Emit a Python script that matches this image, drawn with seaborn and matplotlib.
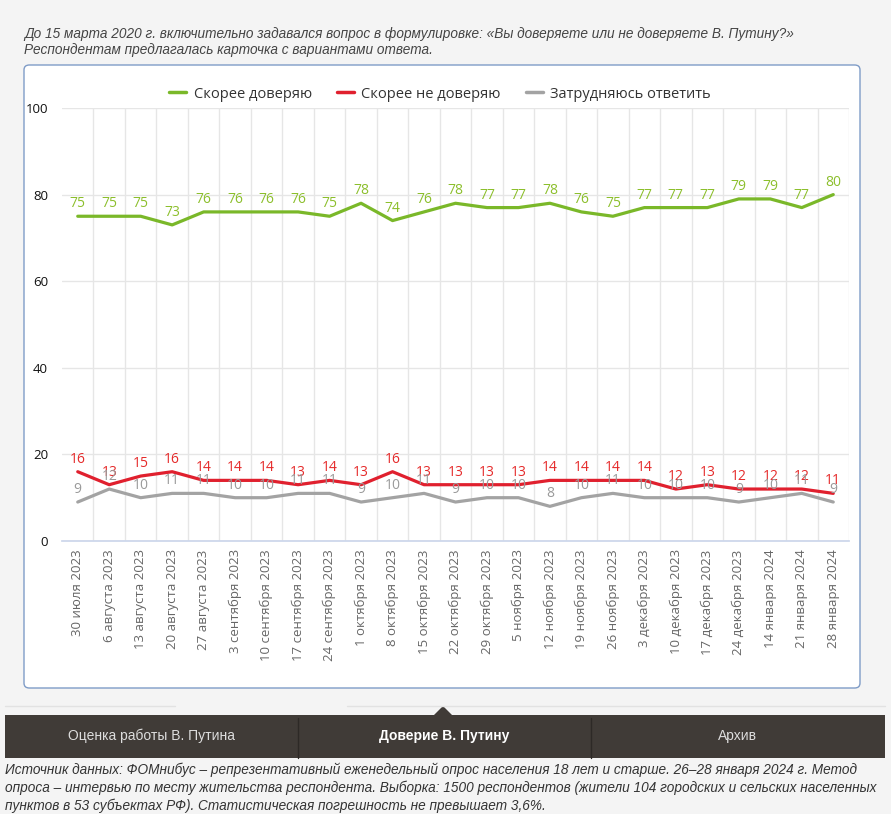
import matplotlib
matplotlib.use("Agg")
import matplotlib.pyplot as plt
import seaborn as sns
import pandas as pd
import numpy as np
from matplotlib.patches import FancyBboxPatch, Rectangle, Polygon

dates = ["30 июля 2023", "6 августа 2023", "13 августа 2023", "20 августа 2023",
         "27 августа 2023", "3 сентября 2023", "10 сентября 2023", "17 сентября 2023",
         "24 сентября 2023", "1 октября 2023", "8 октября 2023", "15 октября 2023",
         "22 октября 2023", "29 октября 2023", "5 ноября 2023", "12 ноября 2023",
         "19 ноября 2023", "26 ноября 2023", "3 декабря 2023", "10 декабря 2023",
         "17 декабря 2023", "24 декабря 2023", "14 января 2024", "21 января 2024",
         "28 января 2024"]
trust = [75, 75, 75, 73, 76, 76, 76, 76, 75, 78, 74, 76, 78, 77, 77, 78, 76, 75,
         77, 77, 77, 79, 79, 77, 80]
distrust = [16, 13, 15, 16, 14, 14, 14, 13, 14, 13, 16, 13, 13, 13, 13, 14, 14, 14,
            14, 12, 13, 12, 12, 12, 11]
unsure = [9, 12, 10, 11, 11, 10, 10, 11, 11, 9, 10, 11, 9, 10, 10, 8, 10, 11,
          10, 10, 10, 9, 10, 11, 9]
series = ["Скорее доверяю", "Скорее не доверяю", "Затрудняюсь ответить"]
line_colors = ["#7ab829", "#e0202e", "#a3a3a3"]
label_colors = ["#8cbf2c", "#e52a2a", "#9a9a9a"]

df = pd.DataFrame({
    "pos": list(range(len(dates))) * 3,
    "value": trust + distrust + unsure,
    "series": np.repeat(series, len(dates)),
})

sns.set_theme(style="white")
plt.rcParams["font.family"] = ["Open Sans", "DejaVu Sans"]

W, H = 891, 814
fig = plt.figure(figsize=(W / 100, H / 100), dpi=100, facecolor="#f4f4f4")

def fx(px):
    return px / W

def fy(py):
    return 1 - py / H

# chart box
box = FancyBboxPatch((fx(24), fy(688)), fx(860) - fx(24), fy(65) - fy(688),
                     boxstyle="round,pad=0,rounding_size=0.006",
                     transform=fig.transFigure, facecolor="white",
                     edgecolor="#7f9cc7", linewidth=1.0, zorder=-1)
fig.patches.append(box)

ax = fig.add_axes([fx(62), fy(541), fx(849) - fx(62), fy(108) - fy(541)])
ax.set_zorder(2)
ax.set_facecolor("none")

sns.lineplot(data=df, x="pos", y="value", hue="series", hue_order=series,
             palette=line_colors, linewidth=2.3, ax=ax, legend=False, zorder=3)

for vals, col in zip([trust, distrust, unsure], label_colors):
    for i, v in enumerate(vals):
        ax.annotate(str(v), (i, v), xytext=(0, 5), textcoords="offset pixels",
                    ha="center", va="bottom", fontsize=10, color=col, zorder=4)

ax.set_xlim(-0.5, len(dates) - 0.5)
ax.set_ylim(0, 100)
ax.set_yticks(range(0, 101, 20))
ax.set_xticks(range(len(dates)))
ax.set_xticklabels(dates, rotation=90, fontsize=9.5, color="#666666")
ax.set_xticks(np.arange(0.5, len(dates), 1), minor=True)
ax.tick_params(axis="x", which="major", length=0, pad=6)
ax.tick_params(axis="x", which="minor", length=6, color="#ccd6eb", width=1)
ax.tick_params(axis="y", length=0, labelsize=9.5, labelcolor="#111111", pad=10)
ax.grid(axis="y", which="major", color="#e6e6e6", linewidth=1)
ax.grid(axis="x", which="minor", color="#e6e6e6", linewidth=1)
ax.set_xlabel("")
ax.set_ylabel("")
for s in ["top", "right", "left"]:
    ax.spines[s].set_visible(False)
ax.spines["bottom"].set_color("#ccd6eb")
ax.spines["bottom"].set_zorder(2)

handles = [plt.Line2D([], [], color=c, linewidth=2.5) for c in line_colors]
fig.legend(handles, series, loc="center", bbox_to_anchor=(fx(440), fy(94)),
           ncol=3, frameon=False, fontsize=10.5, handlelength=1.2,
           columnspacing=1.7, handletextpad=0.5, labelcolor="#333333")

# tabs
fig.patches.append(Rectangle((fx(5), fy(758)), fx(885) - fx(5), fy(715) - fy(758),
                             transform=fig.transFigure, facecolor="#403b37",
                             edgecolor="none", zorder=1))
fig.patches.append(Polygon([(fx(433), fy(716)), (fx(443), fy(706)), (fx(453), fy(716))],
                           closed=True, transform=fig.transFigure,
                           facecolor="#403b37", edgecolor="none", zorder=1))
for xs in [298, 591]:
    fig.add_artist(plt.Line2D([fx(xs), fx(xs)], [fy(718), fy(758)],
                              transform=fig.transFigure, color="#2d2926", linewidth=1))
fig.add_artist(plt.Line2D([fx(5), fx(175)], [fy(706), fy(706)],
                          transform=fig.transFigure, color="#e2e2e2", linewidth=1))
fig.add_artist(plt.Line2D([fx(347), fx(885)], [fy(706), fy(706)],
                          transform=fig.transFigure, color="#e2e2e2", linewidth=1))
narrow = ["Liberation Sans Narrow", "Liberation Sans", "DejaVu Sans"]
fig.text(fx(151), fy(736), "Оценка работы В. Путина", ha="center", va="center",
         fontsize=10, color="#dddddd", family=narrow)
fig.text(fx(444), fy(736), "Доверие В. Путину", ha="center", va="center",
         fontsize=10, color="white", fontweight="bold", family=narrow)
fig.text(fx(737), fy(736), "Архив", ha="center", va="center",
         fontsize=10, color="#dddddd", family=narrow)

fig.text(fx(24), fy(42),
         "До 15 марта 2020 г. включительно задавался вопрос в формулировке: "
         "«Вы доверяете или не доверяете В. Путину?»\n"
         "Респондентам предлагалась карточка с вариантами ответа.",
         ha="left", va="center", fontsize=9.8, style="italic", color="#444444",
         family=narrow, linespacing=1.15)

fig.text(fx(5), fy(788),
         "Источник данных: ФОМнибус – репрезентативный еженедельный опрос населения "
         "18 лет и старше. 26–28 января 2024 г. Метод\n"
         "опроса – интервью по месту жительства респондента. Выборка: 1500 респондентов "
         "(жители 104 городских и сельских населенных\n"
         "пунктов в 53 субъектах РФ). Статистическая погрешность не превышает 3,6%.",
         ha="left", va="center", fontsize=9.8, style="italic", color="#333333",
         family=narrow, linespacing=1.3)

fig.savefig("out.png", dpi=100, facecolor=fig.get_facecolor())
